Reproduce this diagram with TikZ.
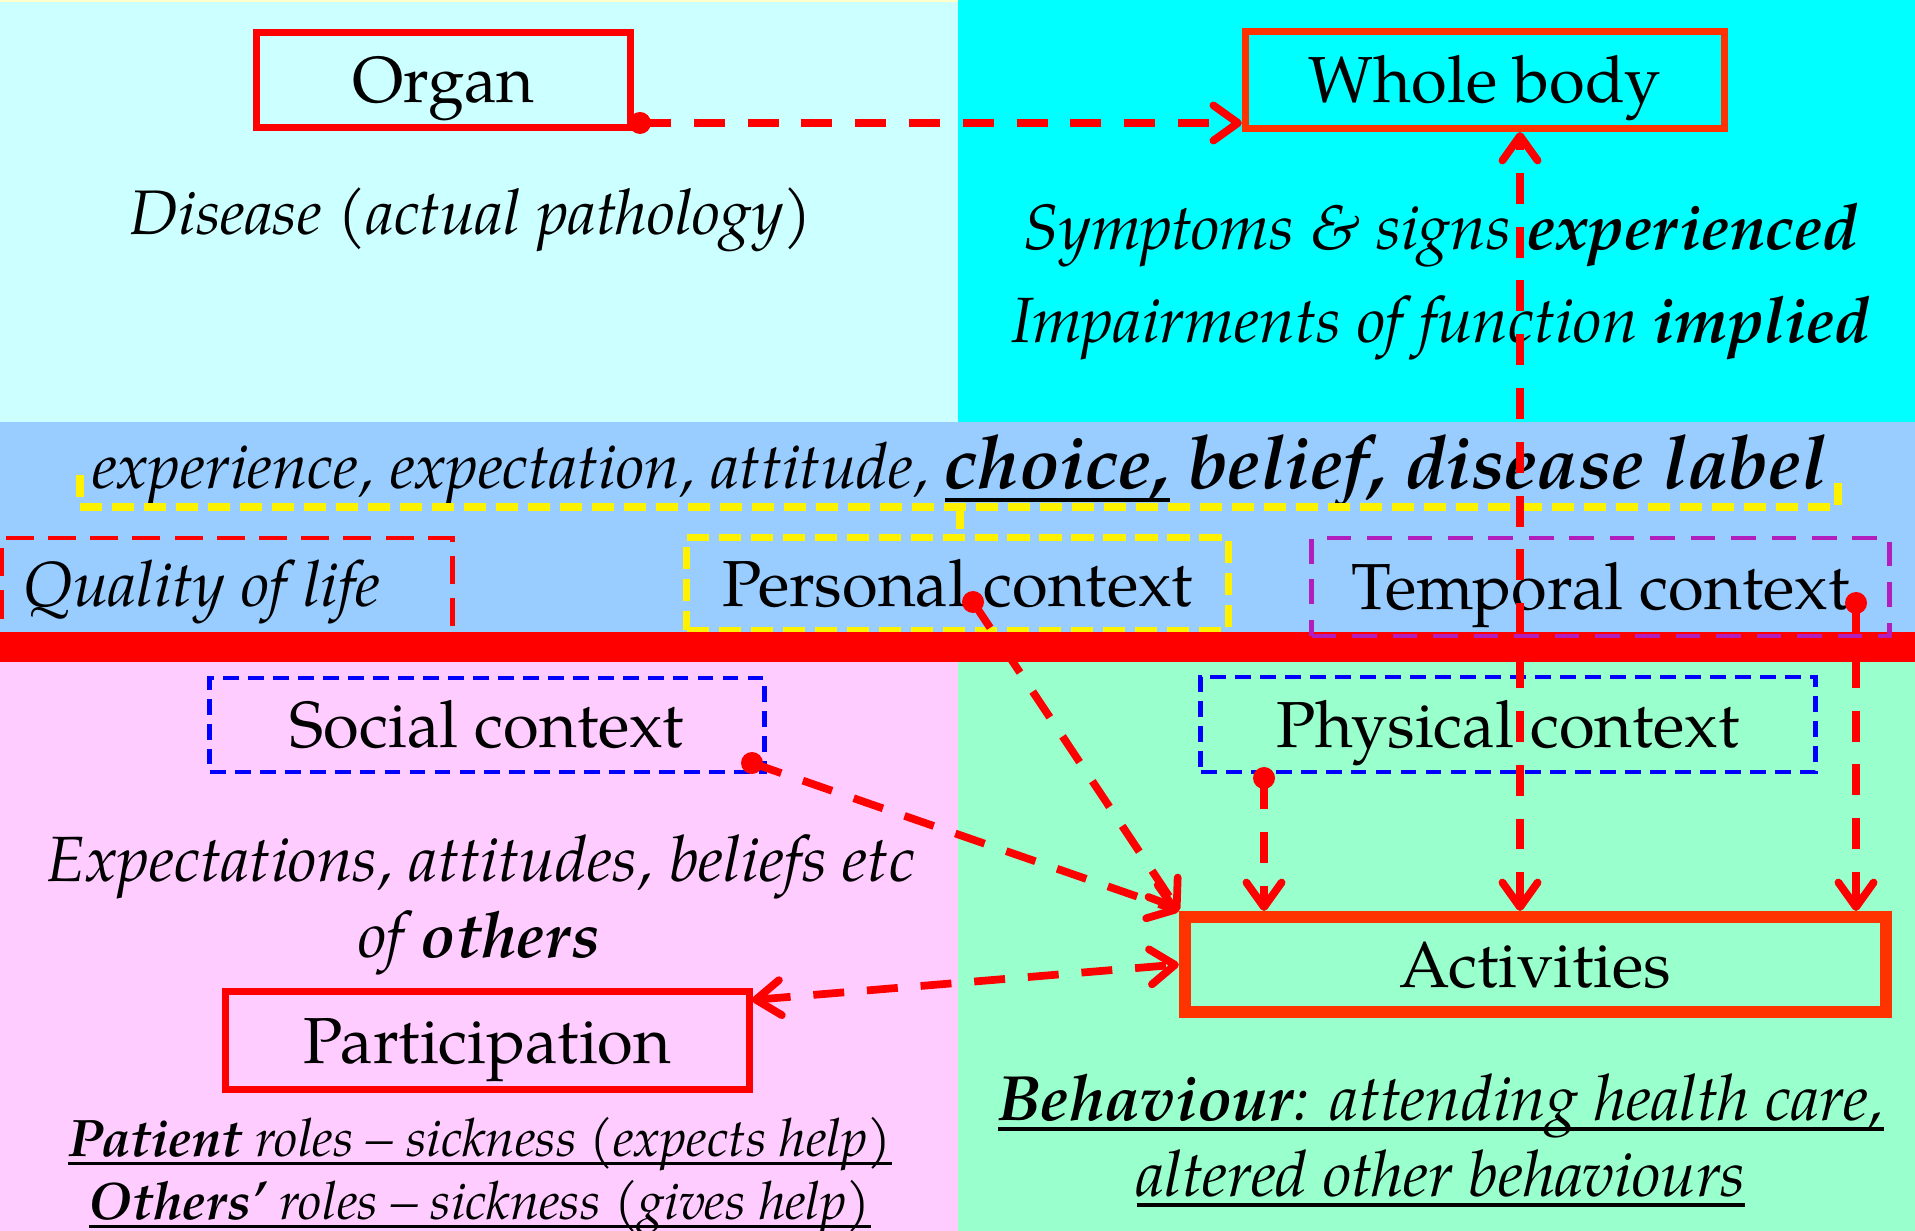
\documentclass[tikz,border=0pt]{standalone}
\usepackage{fontspec}
\setmainfont{texgyrepagella}[Extension=.otf, UprightFont=*-regular, ItalicFont=*-italic, BoldFont=*-bold, BoldItalicFont=*-bolditalic]
\usetikzlibrary{arrows.meta}
\definecolor{bgtl}{HTML}{CCFFFF}
\definecolor{bgtr}{HTML}{00FFFF}
\definecolor{bgmid}{HTML}{99CCFF}
\definecolor{bgbl}{HTML}{FFCCFF}
\definecolor{bgbr}{HTML}{99FFCC}
\definecolor{topstrip}{HTML}{FFFFCC}
\definecolor{orred}{HTML}{FF3300}
\definecolor{purp}{RGB}{178,30,190}
\newsavebox\ulbox
\newcommand\myul[1]{\sbox\ulbox{#1}\rlap{\rule[-0.17em]{\wd\ulbox}{0.055em}}\usebox\ulbox}
\begin{document}
\begin{tikzpicture}[x=0.01cm,y=-0.01cm,
  >={Straight Barb[length=7pt,width=10pt,round]},
  solidbox/.style={draw=#1, line width=2pt, rectangle, inner sep=0pt,
    text height=13pt, text depth=0pt, font=\fontsize{18.5}{22}\selectfont},
  ctxbox/.style={draw=#1, rectangle, inner sep=0pt,
    text height=13pt, text depth=0pt, font=\fontsize{18.5}{22}\selectfont},
  bluedash/.style={line width=1.4pt, dash pattern=on 4.5pt off 2.6pt},
  yeldash/.style={draw=yellow, line width=2.4pt, dash pattern=on 6.3pt off 2.8pt},
  lbl/.style={anchor=base, inner sep=0pt, font=\fontsize{18.2}{22}\selectfont},
  conn/.style={draw=red, line width=2.2pt, dash pattern=on 8.8pt off 6.5pt},
  dotmark/.style={fill=red}
]
\useasboundingbox (0,0) rectangle (1915,1231);
% backgrounds
\fill[bgtl] (0,0) rectangle (958,422);
\fill[bgtr] (958,0) rectangle (1915,422);
\fill[topstrip] (0,0) rectangle (958,2);
\fill[bgmid] (0,422) rectangle (1915,633);
\fill[bgbl] (0,662) rectangle (958,1231);
\fill[bgbr] (958,662) rectangle (1915,1231);

% top boxes
\node[solidbox=red, minimum width=3.74cm, minimum height=0.95cm] (organ) at (443.5,80) {Organ};
\node[solidbox=orred, minimum width=4.79cm, minimum height=0.97cm] (wbody) at (1485,80) {Whole body};
\node[lbl, font=\fontsize{17.9}{22}\selectfont] (disease) at (471,235) {\itshape Disease (actual pathology)};
\node[lbl] (sympt) at (1441,250) {\itshape Symptoms \& signs \textbf{experienced}};
\node[lbl] (impair) at (1441,343) {\itshape Impairments of function \textbf{implied}};

% middle band
\node[lbl, anchor=base west] (beliefs) at (92,489) {{\fontsize{18.1}{22}\selectfont\itshape experience, expectation, attitude, }{\fontsize{21.1}{26}\selectfont\bfseries\itshape \myul{choice,} belief, disease label}};
\draw[yeldash] (80,475) -- (80,507) -- (1838,507) -- (1838,475);
\node[ctxbox=red, line width=1.4pt, dash pattern=on 8pt off 4pt, minimum width=4.50cm, minimum height=1.02cm] (quality) at (227,589) {};
\node[lbl, anchor=base west, font=\fontsize{18.1}{22}\selectfont] (qtext) at (23,607) {\itshape Quality of life};
\node[ctxbox=yellow, line width=2pt, dash pattern=on 6.3pt off 2.8pt, minimum width=5.41cm, minimum height=0.92cm] (personal) at (957.5,584) {Personal context};
\draw[yeldash] (960,507) -- (personal.north -| 960,0);
% red separator bar
\fill[red] (0,632) rectangle (1915,662);
\node[ctxbox=purp, line width=1.4pt, dash pattern=on 7pt off 4.5pt, minimum width=5.77cm, minimum height=0.98cm] (temporal) at (1600.5,587) {Temporal context};

% bottom
\node[ctxbox=blue, bluedash, minimum width=5.54cm, minimum height=0.94cm] (social) at (487,725) {Social context};
\node[ctxbox=blue, bluedash, minimum width=6.14cm, minimum height=0.95cm] (physical) at (1508,724.5) {Physical context};
\node[lbl] (expect) at (481,881) {\itshape Expectations, attitudes, beliefs etc};
\node[lbl] (others) at (479,957) {\itshape of \textbf{others}};
\node[solidbox=red, minimum width=5.24cm, minimum height=0.98cm] (part) at (487.5,1040.5) {Participation};
\node[lbl, font=\fontsize{15}{18}\selectfont] (patient) at (480,1156) {\itshape\myul{\textbf{Patient} roles – sickness (expects help)}};
\node[lbl, font=\fontsize{15}{18}\selectfont] (othroles) at (480,1219) {\itshape\myul{\textbf{Others’} roles – sickness (gives help)}};
\node[solidbox=orred, line width=3.4pt, minimum width=7.01cm, minimum height=0.95cm] (act) at (1535.5,964.5) {Activities};
\node[lbl, font=\fontsize{18.2}{22}\selectfont] (behav) at (1441,1120) {\itshape\myul{\textbf{Behaviour}: attending health care,}};
\node[lbl, font=\fontsize{18.2}{22}\selectfont] (altered) at (1441,1196) {\itshape\myul{altered other behaviours}};

% connectors
\coordinate (oS) at (640,123);
\coordinate (vx) at (1520,0);
\coordinate (pS) at (973,602);
\coordinate (sS) at (752,763);
\coordinate (phS) at (1264,778);
\coordinate (tS) at (1856,603);
\coordinate (paE) at (752,1000);
\draw[conn,->] (oS) -- (wbody.west |- oS);
\draw[conn,<->] (act.north -| vx) -- (wbody.south -| vx);
\draw[conn,->] (pS) -- (act.north west);
\draw[conn,->] (sS) -- (act.north west);
\draw[conn,->] (phS) -- (phS |- act.north);
\draw[conn,->] (tS) -- (tS |- act.north);
\draw[conn,<->] (paE) -- (act.west);
\foreach \p in {oS,pS,sS,phS,tS} \fill[dotmark] (\p) circle[radius=11];
\end{tikzpicture}
\end{document}
